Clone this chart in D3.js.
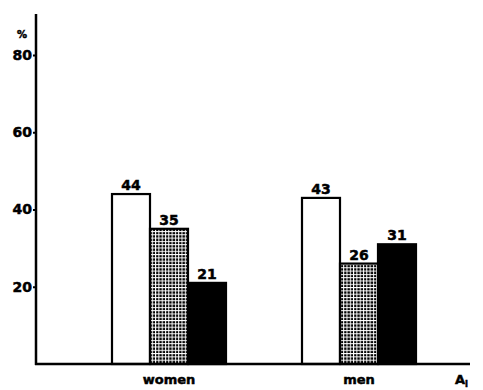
<!DOCTYPE html>
<html><head><meta charset="utf-8">
<script src="https://cdn.jsdelivr.net/npm/d3@7"></script>
<style>body{margin:0;background:#fff}svg{display:block}text{font-family:"DejaVu Sans",sans-serif;font-weight:bold;fill:#000;stroke:#000;stroke-width:0.5px}</style>
</head><body><svg id="c" width="483" height="390"></svg>
<script>
const groups = ["women", "men"];
const seriesNames = ["s1", "s2", "s3"];
const values = {
  s1: [44, 43],
  s2: [35, 26],
  s3: [21, 31]
};
const yTicks = [20, 40, 60, 80];

const svg = d3.select("#c");
const defs = svg.append("defs");
const pat = defs.append("pattern").attr("id","grid").attr("patternUnits","userSpaceOnUse")
  .attr("width",3.3).attr("height",3.3);
pat.append("rect").attr("width",3.3).attr("height",3.3).attr("fill","#000");
pat.append("rect").attr("x",0).attr("y",0).attr("width",1).attr("height",3.3).attr("fill","#fff");
pat.append("rect").attr("x",0).attr("y",0).attr("width",3.3).attr("height",1).attr("fill","#fff");

const x0 = d3.scaleBand().domain(groups).range([74, 454]).paddingInner(0.4).paddingOuter(0.2);
const x1 = d3.scaleBand().domain(seriesNames).range([0, x0.bandwidth()]);
const y = d3.scaleLinear().domain([0, 80]).range([364, 55]);

const fills = {s1:"#fff", s2:"url(#grid)", s3:"#000"};

// bars
groups.forEach((g, gi) => {
  seriesNames.forEach(s => {
    const v = values[s][gi];
    const bx = x0(g) + x1(s);
    svg.append("rect").attr("x", bx).attr("y", y(v)).attr("width", x1.bandwidth()).attr("height", y(0) - y(v))
      .attr("fill", fills[s]).attr("stroke", "#000").attr("stroke-width", 2.2);
    svg.append("text").attr("x", bx + x1.bandwidth()/2).attr("y", y(v) - 4).attr("text-anchor","middle")
      .attr("font-size", 14).text(v);
  });
});

// y axis
const yAxis = d3.axisLeft(y).tickValues(yTicks).tickSize(3).tickPadding(1).tickFormat(d3.format("d"));
const ya = svg.append("g").attr("transform","translate(36,0)").call(yAxis);
ya.select(".domain").remove();
ya.selectAll("line").attr("stroke","#000").attr("stroke-width",2);
ya.selectAll("text").attr("font-size",14).attr("font-family","DejaVu Sans, sans-serif").attr("font-weight","bold").attr("fill","#000");
svg.append("line").attr("x1",36).attr("x2",36).attr("y1",14).attr("y2",y(0)+1).attr("stroke","#000").attr("stroke-width",2.5);
svg.append("text").attr("x",22).attr("y",38).attr("text-anchor","middle").attr("font-size",10).text("%");

// x axis
svg.append("line").attr("x1",35).attr("x2",470).attr("y1",y(0)).attr("y2",y(0)).attr("stroke","#000").attr("stroke-width",2.5);
groups.forEach(g => {
  svg.append("text").attr("x", x0(g) + x0.bandwidth()/2).attr("y", 384).attr("text-anchor","middle").attr("font-size",13).text(g);
});
const al = svg.append("text").attr("x",455).attr("y",384).attr("font-size",13);
al.append("tspan").text("A");
al.append("tspan").attr("font-size",8).attr("dy",3).text("I");
</script></body></html>
